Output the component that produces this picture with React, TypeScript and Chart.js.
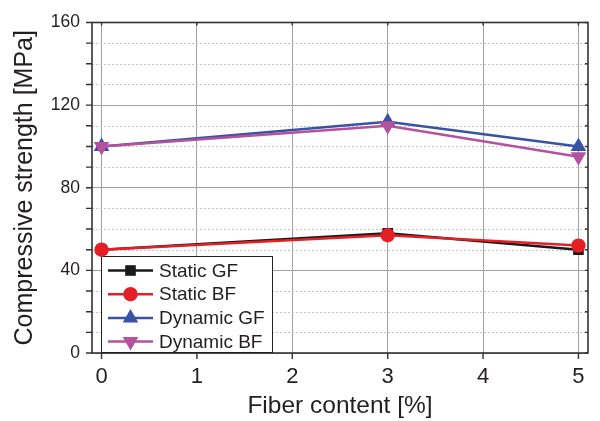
import React, { useEffect, useRef } from "react";
import { Chart, registerables } from "chart.js";

Chart.register(...registerables);

const fiberContent = [0, 3, 5];
const staticGF = [50, 58, 50];
const staticBF = [50, 57, 52];
const dynamicGF = [100, 112, 100];
const dynamicBF = [100, 110, 95];
const seriesNames = ["Static GF", "Static BF", "Dynamic GF", "Dynamic BF"];
const xTickValues = [0, 1, 2, 3, 4, 5];
const xTitle = "Fiber content [%]";
const yTitle = "Compressive strength [MPa]";

const FONT = "'Liberation Sans', Arial, sans-serif";
const TEXT = "#231f20";

const toPts = (ys: number[]) => fiberContent.map((x, i) => ({ x, y: ys[i] }));

function drawMarker(ctx: CanvasRenderingContext2D, ds: any, x: number, y: number) {
  const r = ds.pointRadius;
  ctx.fillStyle = ds.pointBackgroundColor;
  ctx.beginPath();
  if (ds.pointStyle === "rect") {
    const s = r * Math.SQRT1_2;
    ctx.rect(x - s, y - s, 2 * s, 2 * s);
  } else if (ds.pointStyle === "circle") {
    ctx.arc(x, y, r, 0, Math.PI * 2);
  } else {
    const rot = ((ds.pointRotation || 0) * Math.PI) / 180;
    for (let k = 0; k < 3; k++) {
      const a = rot - Math.PI / 2 + (k * 2 * Math.PI) / 3;
      const px = x + Math.cos(a) * r;
      const py = y + Math.sin(a) * r;
      if (k === 0) ctx.moveTo(px, py);
      else ctx.lineTo(px, py);
    }
    ctx.closePath();
  }
  ctx.fill();
}

const framePlugin = {
  id: "framePlugin",
  beforeDatasetsDraw(chart: any) {
    const { ctx, chartArea: ca, scales } = chart;
    const xs = scales.x;
    const ys = scales.y;
    ctx.save();
    ctx.strokeStyle = "#c4c4c4";
    ctx.lineWidth = 1;
    ctx.setLineDash([2, 2]);
    for (let v = 10; v < 160; v += 10) {
      if (v % 40 === 0) continue;
      const py = Math.round(ys.getPixelForValue(v)) + 0.5;
      ctx.beginPath();
      ctx.moveTo(ca.left, py);
      ctx.lineTo(ca.right, py);
      ctx.stroke();
    }
    ctx.setLineDash([]);
    ctx.strokeStyle = "#333333";
    ctx.lineWidth = 1.6;
    ctx.strokeRect(ca.left, ca.top, ca.right - ca.left, ca.bottom - ca.top);
    ctx.lineWidth = 1.4;
    ctx.beginPath();
    for (let v = 0; v <= 160; v += 10) {
      const py = ys.getPixelForValue(v);
      ctx.moveTo(ca.left - 6, py);
      ctx.lineTo(ca.left, py);
      ctx.moveTo(ca.right - 3, py);
      ctx.lineTo(ca.right, py);
    }
    for (const v of xTickValues) {
      const px = xs.getPixelForValue(v);
      ctx.moveTo(px, ca.bottom);
      ctx.lineTo(px, ca.bottom + 6);
      ctx.moveTo(px, ca.top);
      ctx.lineTo(px, ca.top + 3);
    }
    ctx.stroke();

    const lx = ca.left + 9.5;
    const ly = ca.top + 234;
    const lw = 171;
    const lh = 96;
    ctx.fillStyle = "#ffffff";
    ctx.fillRect(lx, ly, lw, lh);
    ctx.strokeStyle = "#222222";
    ctx.lineWidth = 1;
    ctx.strokeRect(lx, ly, lw, lh);
    chart.data.datasets.forEach((ds: any, i: number) => {
      const cy = ly + 14 + i * 23.7;
      ctx.strokeStyle = ds.borderColor;
      ctx.lineWidth = ds.borderWidth;
      ctx.beginPath();
      ctx.moveTo(lx + 6.5, cy);
      ctx.lineTo(lx + 51.5, cy);
      ctx.stroke();
      drawMarker(ctx, ds, lx + 29, cy);
      ctx.fillStyle = TEXT;
      ctx.font = `19px ${FONT}`;
      ctx.textBaseline = "middle";
      ctx.textAlign = "left";
      ctx.fillText(ds.label, lx + 57.5, cy + 1);
    });
    ctx.restore();
  },
};

export default function App() {
  const ref = useRef<HTMLCanvasElement | null>(null);
  useEffect(() => {
    if (!ref.current) return;
    const mk = (label: string, data: number[], color: string, style: string, radius: number, order: number, rot = 0) => ({
      label,
      data: toPts(data),
      borderColor: color,
      backgroundColor: color,
      pointBackgroundColor: color,
      pointBorderColor: color,
      pointBorderWidth: 0,
      borderWidth: 2.5,
      pointStyle: style,
      pointRadius: radius,
      pointRotation: rot,
      tension: 0,
      order,
    });
    const chart = new Chart(ref.current, {
      type: "line",
      data: {
        datasets: [
          mk(seriesNames[0], staticGF, "#1a1a1a", "rect", 7.5, 4),
          mk(seriesNames[1], staticBF, "#e41f26", "circle", 7.2, 3),
          mk(seriesNames[2], dynamicGF, "#3953a4", "triangle", 9, 2),
          mk(seriesNames[3], dynamicBF, "#b5519e", "triangle", 9, 1, 180),
        ],
      } as any,
      options: {
        animation: false,
        responsive: false,
        devicePixelRatio: 1,
        layout: { padding: { top: 16, right: 12, left: 0, bottom: 0 } },
        plugins: { legend: { display: false }, tooltip: { enabled: false } },
        scales: {
          x: {
            type: "linear",
            min: -0.1,
            max: 5.1,
            afterBuildTicks: (s: any) => {
              s.ticks = xTickValues.map((v) => ({ value: v }));
            },
            afterFit: (s: any) => {
              s.height = 68;
            },
            ticks: {
              padding: 11,
              color: TEXT,
              font: { family: FONT, size: 22 },
              callback: (v: any) => String(v),
            },
            grid: { color: "#a0a0a0", lineWidth: 1, drawTicks: false },
            border: { display: false },
            title: {
              display: true,
              text: xTitle,
              color: TEXT,
              font: { family: FONT, size: 24.5 },
              padding: { top: 0, bottom: 0 },
            },
          },
          y: {
            type: "linear",
            min: 0,
            max: 160,
            afterFit: (s: any) => {
              s.width = 92;
            },
            ticks: {
              stepSize: 20,
              padding: 12,
              color: TEXT,
              font: { family: FONT, size: 17.5 },
              callback: (v: any) => (Number(v) % 40 === 0 ? String(v) : ""),
            },
            grid: {
              color: (c: any) => (c.tick && c.tick.value % 40 === 0 ? "#a0a0a0" : "rgba(0,0,0,0)"),
              lineWidth: 1,
              drawTicks: false,
            },
            border: { display: false },
            title: {
              display: true,
              text: yTitle,
              color: TEXT,
              font: { family: FONT, size: 25 },
              padding: { top: 10, bottom: 0 },
            },
          },
        },
      } as any,
      plugins: [framePlugin],
    });
    return () => chart.destroy();
  }, []);
  return (
    <div style={{ position: "absolute", left: 0, top: 0, width: 600, height: 421 }}>
      <canvas ref={ref} width={600} height={421} />
    </div>
  );
}
